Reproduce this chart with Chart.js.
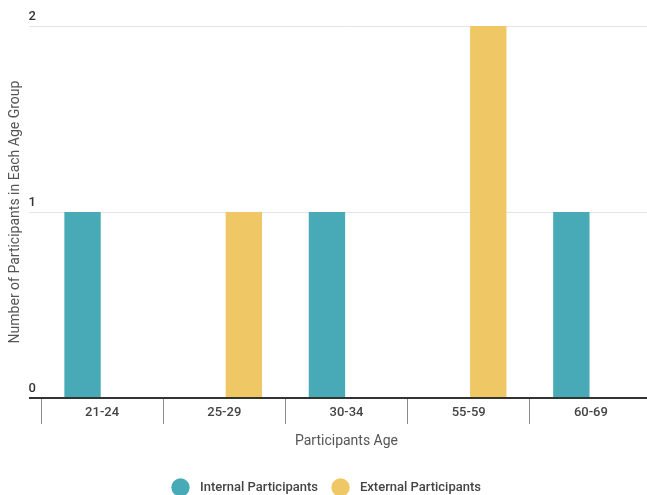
<!DOCTYPE html>
<html>
<head>
<meta charset="utf-8">
<script src="https://cdn.jsdelivr.net/npm/chart.js"></script>
<style>
  html, body { margin: 0; padding: 0; background: #fff; overflow: hidden; }
  #wrap { width: 652px; height: 504px; }
</style>
</head>
<body>
<div id="wrap"><canvas id="grafico"></canvas></div>
<script>
// Datos del gráfico
const gruposEdad = ['21-24', '25-29', '30-34', '55-59', '60-69'];
const internos = [1, 0, 1, 0, 1];
const externos = [0, 1, 0, 2, 0];
const ticksY = [0, 1, 2];

const colorInterno = '#47aab6';
const colorExterno = '#efc865';

const ctx = document.getElementById('grafico');
new Chart(ctx, {
  type: 'bar',
  data: {
    labels: gruposEdad,
    datasets: [
      {
        label: 'Internal Participants',
        data: internos,
        backgroundColor: colorInterno,
        borderWidth: 0
      },
      {
        label: 'External Participants',
        data: externos,
        backgroundColor: colorExterno,
        borderWidth: 0
      }
    ]
  },
  options: {
    responsive: true,
    maintainAspectRatio: false,
    animation: false,
    datasets: {
      bar: { categoryPercentage: 0.64, barPercentage: 0.93 }
    },
    layout: { padding: { top: 26, left: 3, right: 0, bottom: 0 } },
    scales: {
      x: {
        grid: {
          display: true,
          drawOnChartArea: false,
          drawTicks: true,
          tickLength: 26,
          color: '#8a8a8a',
          offset: true
        },
        border: { display: true, color: '#333', width: 2 },
        ticks: {
          padding: -19,
          color: '#444',
          font: { family: 'Roboto', size: 13, weight: '500' }
        },
        title: {
          display: true,
          text: 'Participants Age',
          color: '#555',
          font: { family: 'Roboto', size: 14 },
          padding: { top: 4, bottom: 15 }
        },
        afterFit: s => { s.height = 67; }
      },
      y: {
        min: 0,
        max: 2,
        afterBuildTicks: s => { s.ticks = ticksY.map(v => ({ value: v })); },
        grid: {
          drawTicks: true,
          tickLength: 12,
          color: c => c.tick && c.tick.value === 0 ? '#333' : '#e4e4e4',
          lineWidth: c => c.tick && c.tick.value === 0 ? 2 : 1
        },
        border: { display: false },
        ticks: {
          padding: -7,
          labelOffset: -9,
          color: '#333',
          font: { family: 'Roboto', size: 13, weight: '500' }
        },
        title: {
          display: true,
          text: 'Number of Participants in Each Age Group',
          color: '#555',
          font: { family: 'Roboto', size: 14 },
          padding: { top: 4, bottom: 0 }
        },
        afterFit: s => { s.width = 38; }
      }
    },
    plugins: {
      legend: {
        position: 'bottom',
        labels: {
          usePointStyle: true,
          pointStyle: 'circle',
          boxHeight: 13,
          color: '#444',
          font: { family: 'Roboto', size: 13, weight: '500' },
          padding: 16,
          // un poco de aire entre el círculo y el texto
          generateLabels: chart => Chart.defaults.plugins.legend.labels.generateLabels(chart)
            .map(item => ({ ...item, text: '  ' + item.text }))
        }
      },
      tooltip: { enabled: false }
    }
  }
});
</script>
</body>
</html>
